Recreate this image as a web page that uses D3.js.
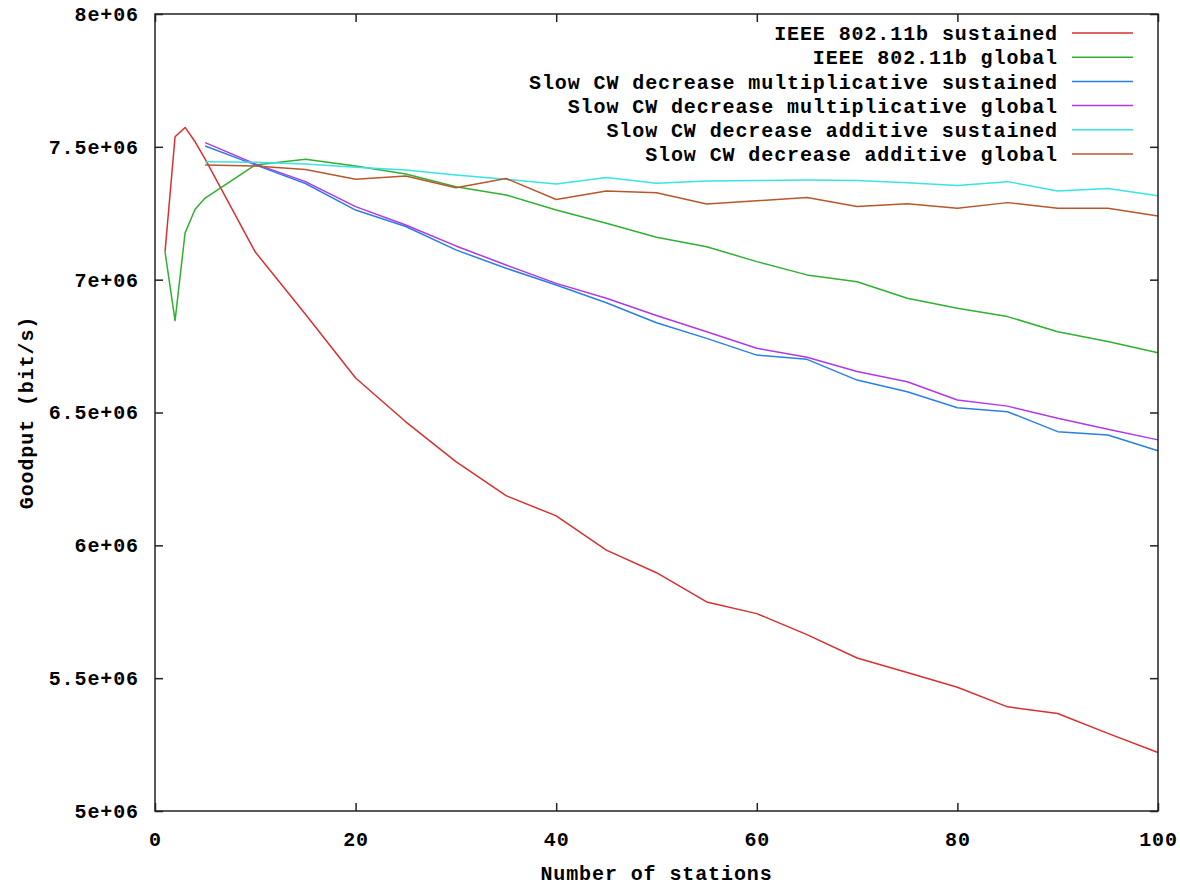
<!DOCTYPE html>
<html>
<head>
<meta charset="utf-8">
<script src="https://cdn.jsdelivr.net/npm/d3@7"></script>
<style>
  html, body { margin: 0; padding: 0; background: #fff; }
  svg { display: block; }
  .mono { font-family: "Liberation Mono", "DejaVu Sans Mono", monospace; font-weight: bold; font-size: 20px; letter-spacing: 0.9px; fill: #000; }
</style>
</head>
<body>
<svg id="chart" width="1180" height="885"></svg>
<script>
// Number of stations sampled by each run
const stationsEarly = [1, 2, 3, 4, 5, 10, 15, 20, 25, 30, 35, 40, 45, 50, 55, 60, 65, 70, 75, 80, 85, 90, 95, 100];
const stationsStep5 = [5, 10, 15, 20, 25, 30, 35, 40, 45, 50, 55, 60, 65, 70, 75, 80, 85, 90, 95, 100];

// Goodput in bit/s
const ieeeSustained = [7.105e6, 7.538e6, 7.573e6, 7.519e6, 7.454e6, 7.104e6, 6.870e6, 6.630e6, 6.465e6, 6.315e6,
  6.187e6, 6.111e6, 5.982e6, 5.897e6, 5.787e6, 5.743e6, 5.664e6, 5.576e6, 5.521e6, 5.466e6, 5.392e6, 5.367e6, 5.292e6, 5.220e6];
const ieeeGlobal = [7.105e6, 6.846e6, 7.176e6, 7.265e6, 7.307e6, 7.432e6, 7.453e6, 7.428e6, 7.398e6, 7.350e6,
  7.319e6, 7.262e6, 7.212e6, 7.160e6, 7.124e6, 7.068e6, 7.018e6, 6.992e6, 6.930e6, 6.892e6, 6.861e6, 6.804e6, 6.767e6, 6.725e6];
const multSustained = [7.503e6, 7.432e6, 7.362e6, 7.262e6, 7.200e6, 7.112e6, 7.043e6, 6.980e6, 6.913e6, 6.838e6,
  6.779e6, 6.716e6, 6.700e6, 6.622e6, 6.578e6, 6.518e6, 6.503e6, 6.428e6, 6.415e6, 6.356e6];
const multGlobal = [7.516e6, 7.436e6, 7.369e6, 7.275e6, 7.206e6, 7.127e6, 7.055e6, 6.986e6, 6.930e6, 6.865e6,
  6.804e6, 6.742e6, 6.708e6, 6.654e6, 6.616e6, 6.547e6, 6.524e6, 6.478e6, 6.437e6, 6.397e6];
const addSustained = [7.444e6, 7.442e6, 7.435e6, 7.423e6, 7.413e6, 7.394e6, 7.378e6, 7.360e6, 7.385e6, 7.363e6,
  7.371e6, 7.373e6, 7.375e6, 7.373e6, 7.365e6, 7.354e6, 7.369e6, 7.334e6, 7.343e6, 7.316e6];
const addGlobal = [7.432e6, 7.428e6, 7.415e6, 7.378e6, 7.390e6, 7.346e6, 7.381e6, 7.302e6, 7.334e6, 7.327e6,
  7.285e6, 7.297e6, 7.309e6, 7.275e6, 7.286e6, 7.269e6, 7.290e6, 7.269e6, 7.269e6, 7.240e6];

const seriesNames = [
  "IEEE 802.11b sustained",
  "IEEE 802.11b global",
  "Slow CW decrease multiplicative sustained",
  "Slow CW decrease multiplicative global",
  "Slow CW decrease additive sustained",
  "Slow CW decrease additive global"
];
const seriesColors = ["#d83030", "#30b030", "#2a80e0", "#b038ec", "#38e4e4", "#b8582a"];

const xTicks = [0, 20, 40, 60, 80, 100];
const xTickLabels = ["0", "20", "40", "60", "80", "100"];
const yTicks = [5e6, 5.5e6, 6e6, 6.5e6, 7e6, 7.5e6, 8e6];
const yTickLabels = ["5e+06", "5.5e+06", "6e+06", "6.5e+06", "7e+06", "7.5e+06", "8e+06"];

const xTitle = "Number of stations";
const yTitle = "Goodput (bit/s)";

// ---- layout ----
const plot = { left: 155, right: 1158, top: 14, bottom: 811 };

const series = [
  { xs: stationsEarly, ys: ieeeSustained },
  { xs: stationsEarly, ys: ieeeGlobal },
  { xs: stationsStep5, ys: multSustained },
  { xs: stationsStep5, ys: multGlobal },
  { xs: stationsStep5, ys: addSustained },
  { xs: stationsStep5, ys: addGlobal }
].map((s, i) => ({
  name: seriesNames[i],
  color: seriesColors[i],
  points: s.xs.map((x, j) => [x, s.ys[j]])
}));

const svg = d3.select("#chart");

const x = d3.scaleLinear().domain([0, 100]).range([plot.left, plot.right]);
const y = d3.scaleLinear().domain([5e6, 8e6]).range([plot.bottom, plot.top]);

const xLabel = d => xTickLabels[xTicks.indexOf(d)];
const yLabel = d => yTickLabels[yTicks.indexOf(d)];

function styleAxis(g) {
  g.attr("font-family", null).attr("font-size", null);
  g.select(".domain").remove();
  g.selectAll(".tick line").attr("stroke", "#222").attr("stroke-width", 1.5);
  g.selectAll(".tick text").attr("class", "mono").attr("fill", null);
}

// inward ticks on all four sides, labels on bottom and left
svg.append("g")
  .attr("transform", `translate(0,${plot.bottom})`)
  .call(d3.axisBottom(x).tickValues(xTicks).tickFormat(xLabel).tickSizeInner(-8).tickSizeOuter(0).tickPadding(21))
  .call(styleAxis);

svg.append("g")
  .attr("transform", `translate(0,${plot.top})`)
  .call(d3.axisTop(x).tickValues(xTicks).tickFormat("").tickSizeInner(-8).tickSizeOuter(0))
  .call(styleAxis);

svg.append("g")
  .attr("transform", `translate(${plot.left},0)`)
  .call(d3.axisLeft(y).tickValues(yTicks).tickFormat(yLabel).tickSizeInner(-8).tickSizeOuter(0).tickPadding(16))
  .call(styleAxis);

svg.append("g")
  .attr("transform", `translate(${plot.right},0)`)
  .call(d3.axisRight(y).tickValues(yTicks).tickFormat("").tickSizeInner(-8).tickSizeOuter(0))
  .call(styleAxis);

// data lines
const line = d3.line().x(d => x(d[0])).y(d => y(d[1]));

svg.append("g")
  .attr("fill", "none")
  .attr("stroke-width", 1.5)
  .attr("stroke-linejoin", "round")
  .selectAll("path")
  .data(series)
  .join("path")
  .attr("stroke", d => d.color)
  .attr("d", d => line(d.points));

// frame
svg.append("rect")
  .attr("x", plot.left).attr("y", plot.top)
  .attr("width", plot.right - plot.left).attr("height", plot.bottom - plot.top)
  .attr("fill", "none").attr("stroke", "#222").attr("stroke-width", 1.5);

// legend, top right inside the frame
const legend = svg.append("g");
const legendRowY = i => 33 + i * 24.2;
legend.selectAll("text")
  .data(series)
  .join("text")
  .attr("class", "mono")
  .attr("x", 1058)
  .attr("y", (d, i) => legendRowY(i))
  .attr("dy", "0.36em")
  .attr("text-anchor", "end")
  .text(d => d.name);
legend.selectAll("line")
  .data(series)
  .join("line")
  .attr("x1", 1072).attr("x2", 1133)
  .attr("y1", (d, i) => legendRowY(i)).attr("y2", (d, i) => legendRowY(i))
  .attr("stroke", d => d.color).attr("stroke-width", 1.5);

// axis titles
svg.append("text")
  .attr("class", "mono")
  .attr("x", (plot.left + plot.right) / 2)
  .attr("y", 873)
  .attr("dy", "0.36em")
  .attr("text-anchor", "middle")
  .text(xTitle);

svg.append("text")
  .attr("class", "mono")
  .attr("transform", `translate(26,${(plot.top + plot.bottom) / 2}) rotate(-90)`)
  .attr("dy", "0.36em")
  .attr("text-anchor", "middle")
  .text(yTitle);
</script>
</body>
</html>
